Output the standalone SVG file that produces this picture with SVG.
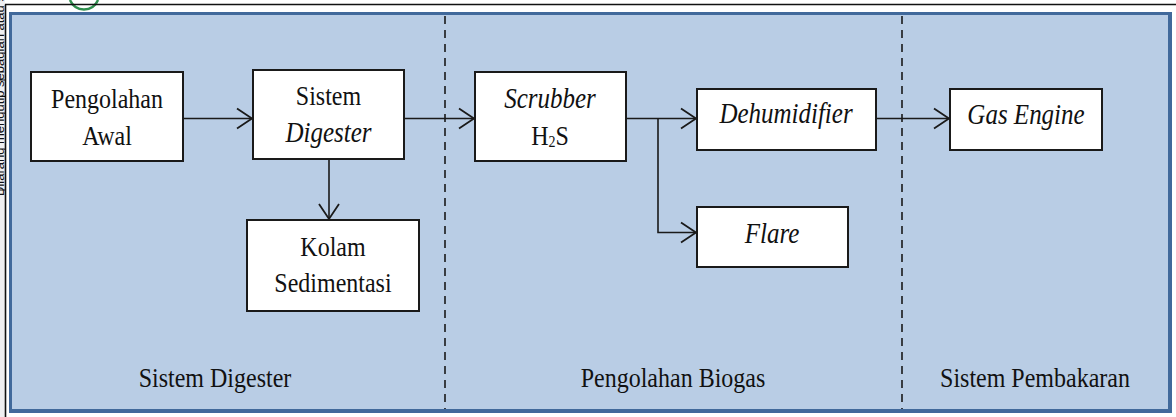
<svg xmlns="http://www.w3.org/2000/svg" width="1176" height="417" viewBox="0 0 1176 417">
  <style>
    .t { font-family: "Liberation Serif", "Times New Roman", serif; font-size: 24px; fill: #111; text-anchor: middle; }
    .i { font-style: italic; font-size: 25px; }
    .box { fill: #ffffff; stroke: #1a1a1a; stroke-width: 2; }
    .conn { fill: none; stroke: #1a1a1a; stroke-width: 1.6; }
    .divider { stroke: #1a1a1a; stroke-width: 1.6; stroke-dasharray: 8 6; }
    .edge-note { font-family: "Liberation Sans", Arial, sans-serif; font-size: 13px; fill: #111; }
  </style>
  <defs>
    <marker id="arrow" markerUnits="userSpaceOnUse" markerWidth="20" markerHeight="24" refX="0" refY="0" viewBox="-17 -12 19 24" orient="auto">
      <path d="M-15,-10 L0,0 L-15,10" fill="none" stroke="#1a1a1a" stroke-width="1.8"/>
    </marker>
    <clipPath id="margin-clip">
      <rect x="0" y="0" width="5" height="417"/>
    </clipPath>
  </defs>

  <!-- page margin -->
  <rect x="0" y="0" width="1176" height="417" fill="#ffffff"/>
  <rect x="0" y="0" width="5" height="417" fill="#efeff1"/>
  <g clip-path="url(#margin-clip)">
    <text class="edge-note" transform="translate(4 196) rotate(-90)">Dilarang mengutip sebagian atau seluruh</text>
  </g>
  <line x1="0" y1="80" x2="5" y2="80" stroke="#111" stroke-width="1"/>
  <line x1="0" y1="190" x2="5" y2="190" stroke="#111" stroke-width="1"/>
  <path d="M70,0 A15,15 0 0 0 98,0" fill="none" stroke="#2f8f4e" stroke-width="2.5"/>
  <line x1="5.5" y1="4.5" x2="5.5" y2="417" stroke="#111" stroke-width="1.6"/>
  <line x1="5" y1="4.5" x2="1176" y2="4.5" stroke="#111" stroke-width="1.6"/>

  <!-- background panel -->
  <rect x="9" y="12" width="1163" height="401" fill="#41699b"/>
  <rect x="12" y="15" width="1156" height="394" fill="#b9cde5"/>

  <!-- section dividers -->
  <g id="dividers">
    <line class="divider" x1="445" y1="16" x2="445" y2="409"/>
    <line class="divider" x1="902" y1="16" x2="902" y2="409"/>
  </g>

  <!-- connectors -->
  <g id="connectors">
    <path class="conn" d="M183,118.5 H252" marker-end="url(#arrow)"/>
    <path class="conn" d="M329,160 V219" marker-end="url(#arrow)"/>
    <path class="conn" d="M404,118.5 H474" marker-end="url(#arrow)"/>
    <path class="conn" d="M626,118.5 H696" marker-end="url(#arrow)"/>
    <path class="conn" d="M658,118.5 V232.5 H696" marker-end="url(#arrow)"/>
    <path class="conn" d="M876,118.5 H949" marker-end="url(#arrow)"/>
  </g>

  <g id="pengolahan-awal">
    <rect class="box" x="31" y="72" width="152" height="89"/>
    <text class="t" transform="translate(107 108) scale(1 1.18)">Pengolahan</text>
    <text class="t" transform="translate(107 145) scale(1 1.18)">Awal</text>
  </g>

  <g id="sistem-digester">
    <rect class="box" x="253" y="70" width="151" height="89"/>
    <text class="t" transform="translate(328.5 105) scale(1 1.18)">Sistem</text>
    <text class="t i" transform="translate(328.5 141.5) scale(1 1.18)">Digester</text>
  </g>

  <g id="kolam-sedimentasi">
    <rect class="box" x="247" y="220" width="172" height="91"/>
    <text class="t" transform="translate(333 256) scale(1 1.18)">Kolam</text>
    <text class="t" transform="translate(333 291.5) scale(1 1.18)">Sedimentasi</text>
  </g>

  <g id="scrubber">
    <rect class="box" x="475" y="72" width="151" height="89"/>
    <text class="t i" transform="translate(550 108) scale(1 1.18)">Scrubber</text>
    <text class="t" transform="translate(550 145) scale(1 1.18)">H<tspan font-size="14" dy="2">2</tspan><tspan dy="-2">S</tspan></text>
  </g>

  <g id="dehumidifier">
    <rect class="box" x="697" y="89" width="179" height="61"/>
    <text class="t i" transform="translate(786 122.5) scale(1 1.18)">Dehumidifier</text>
  </g>

  <g id="flare">
    <rect class="box" x="697" y="207" width="151" height="60"/>
    <text class="t i" transform="translate(772 243) scale(1 1.18)">Flare</text>
  </g>

  <g id="gas-engine">
    <rect class="box" x="950" y="89" width="152" height="61"/>
    <text class="t i" transform="translate(1026 124) scale(1 1.18)">Gas Engine</text>
  </g>

  <!-- section captions -->
  <g id="captions">
    <text class="t" transform="translate(215 387) scale(1 1.18)">Sistem Digester</text>
    <text class="t" transform="translate(673 387) scale(1 1.18)">Pengolahan Biogas</text>
    <text class="t" transform="translate(1035 387) scale(1 1.18)">Sistem Pembakaran</text>
  </g>
</svg>
